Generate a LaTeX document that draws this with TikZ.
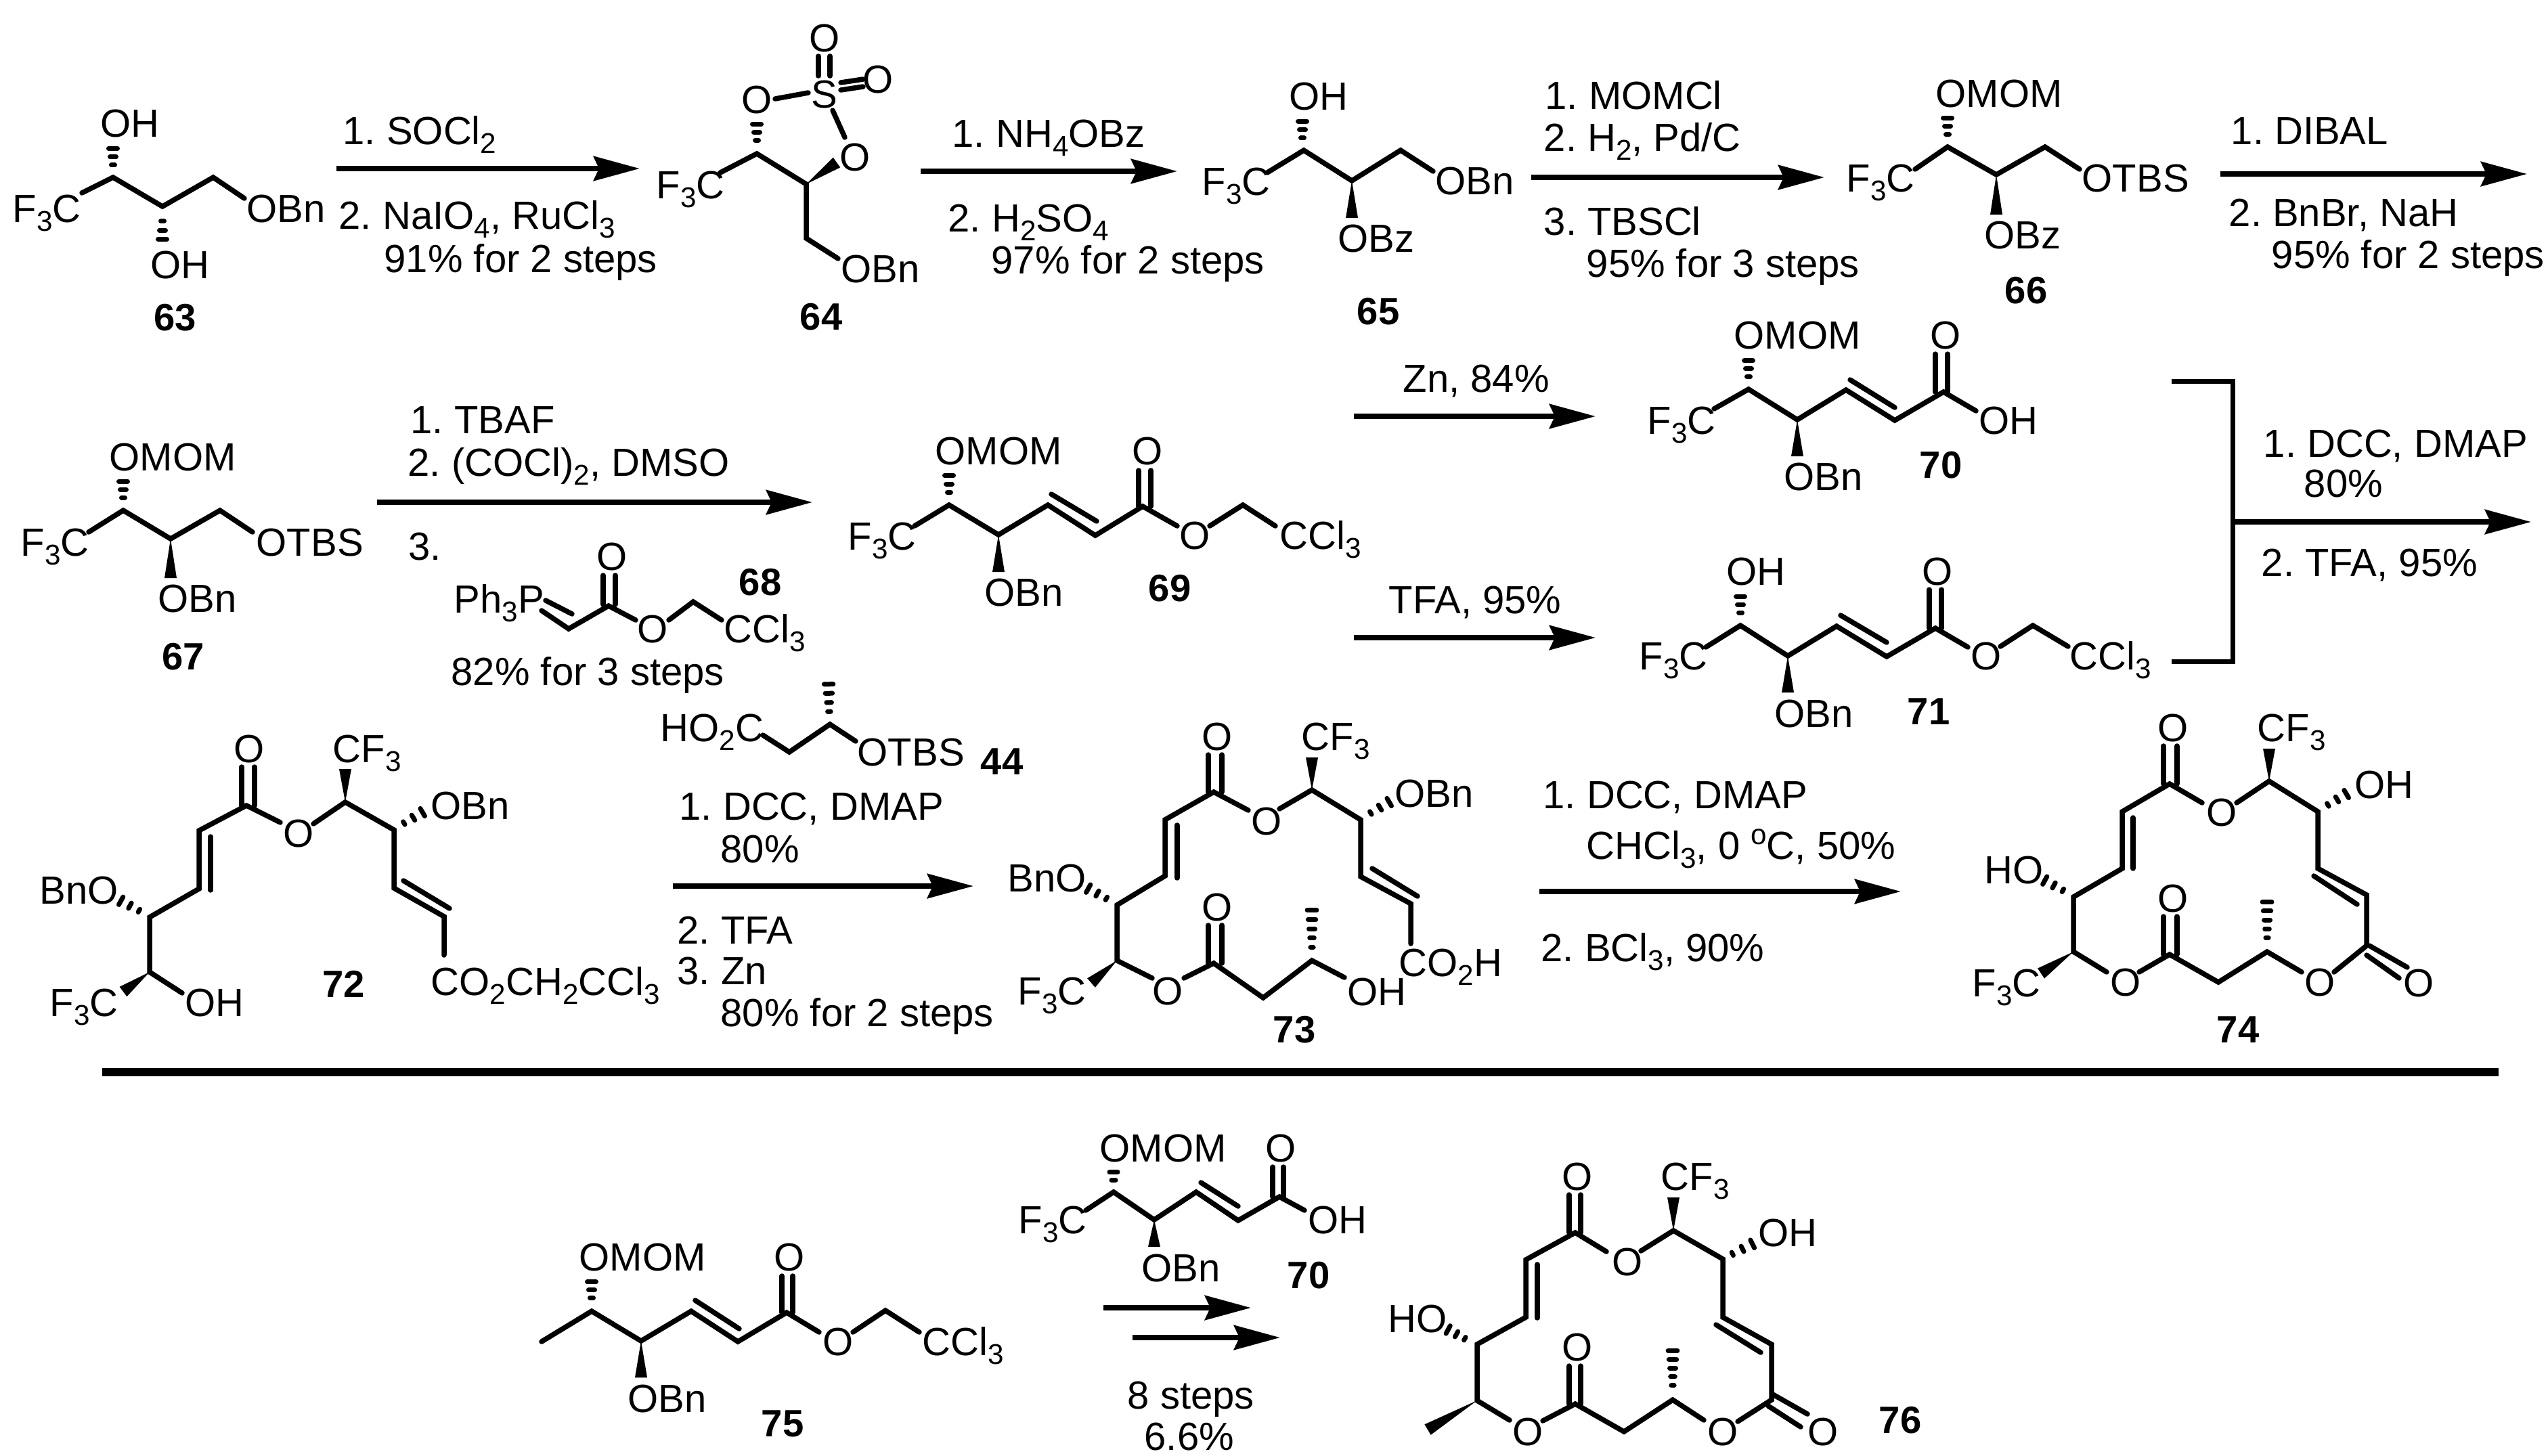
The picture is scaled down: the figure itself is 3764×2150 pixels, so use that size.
\documentclass[tikz,border=0pt]{standalone}
\usepackage{fontspec}
\setmainfont{Liberation Sans}
\usepackage{tikz}
\usetikzlibrary{arrows.meta}
\usetikzlibrary{calc}
\frenchspacing
\tikzstyle{scheme_style}=[
	x=0.01cm,y=-0.01cm,
	atom/.style={anchor=base west,inner sep=0pt,font=\fontsize{16.5}{20}\selectfont},
	reagent/.style={anchor=base west,inner sep=0pt,font=\fontsize{16.5}{20}\selectfont},
	compound/.style={anchor=base west,inner sep=0pt,font=\fontsize{16}{20}\selectfont\bfseries},
	bond/.style={line width=0.075cm,line cap=round},
	hash_bar/.style={line width=0.07cm,line cap=round},
	reaction_arrow/.style={-{Stealth[length=0.68cm,width=0.36cm,inset=0.08cm]},line width=0.08cm},
	bracket/.style={line width=0.07cm},
	sep_line/.style={line width=0.125cm}
]
\newcommand{\chemsub}[1]{\raisebox{-3.7pt}{\fontsize{12}{12}\selectfont #1}}
\newcommand{\chemsup}[1]{\raisebox{6pt}{\fontsize{12}{12}\selectfont #1}}
\newcommand{\hashbond}[3]{\foreach \i in {1,...,#3}{
	\pgfmathsetmacro{\hfrac}{(\i-0.5)/#3}
	\pgfmathsetmacro{\hw}{0.015+0.06*\hfrac}
	\coordinate (hp) at ($#1!\hfrac!#2$);
	\draw[hash_bar] ($(hp)!\hw cm!90:#2$) -- ($(hp)!\hw cm!-90:#2$);}}
\newcommand{\wedgebond}[2]{\fill #1 -- ($#2!0.09cm!90:#1$) -- ($#2!0.09cm!-90:#1$) -- cycle;}
\begin{document}
\begin{tikzpicture}[scheme_style]
			\useasboundingbox (0,0) rectangle (3764,2150);
			
			%63
			\node[atom] (oh63a) at (148,202) {OH};
			\node[atom] (oh63b) at (222,411) {OH};
			\node[atom] (cf63) at (18,328) {F\chemsub{3}C};
			\node[atom] (obn63) at (364,328) {OBn};
			\node[compound] (c63) at (227,488) {63};
			\draw[bond] (121,285) -- (167,262) -- (240,305) -- (315,262) -- (361,293);
			\hashbond{(167,250)}{(167,213)}{3}
			\hashbond{(240,320)}{(240,360)}{3}
			
			%64
			\node[atom] (cf64) at (969,293) {F\chemsub{3}C};
			\node[atom] (oa64) at (1095,167) {O};
			\node[atom] (s64) at (1198,159) {S};
			\node[atom] (ob64) at (1195,76) {O};
			\node[atom] (oc64) at (1274,137) {O};
			\node[atom] (od64) at (1240,252) {O};
			\node[atom] (obn64) at (1242,417) {OBn};
			\node[compound] (c64) at (1181,487) {64};
			\draw[bond] (1064,255) -- (1118,227) -- (1191,272) -- (1191,352) -- (1238,382);
			\draw[bond] (1145,146) -- (1194,137);
			\draw[bond] (1209,83) -- (1209,112) (1226,83) -- (1226,112);
			\draw[bond] (1242,122) -- (1275,117) (1242,133) -- (1275,128);
			\draw[bond] (1230,163) -- (1248,203);
			\hashbond{(1118,213)}{(1118,178)}{3}
			\wedgebond{(1191,272)}{(1236,240)}
			
			%65
			\node[atom] (cf65) at (1775,288) {F\chemsub{3}C};
			\node[atom] (oh65) at (1904,162) {OH};
			\node[atom] (obn65) at (2120,287) {OBn};
			\node[atom] (obz65) at (1976,372) {OBz};
			\node[compound] (c65) at (2004,479) {65};
			\draw[bond] (1872,255) -- (1926,222) -- (1997,267) -- (2069,222) -- (2117,253);
			\hashbond{(1924,210)}{(1924,173)}{3}
			\wedgebond{(1997,267)}{(1997,322)}
			
			%66
			\node[atom] (cf66) at (2727,283) {F\chemsub{3}C};
			\node[atom] (omom66) at (2859,158) {OMOM};
			\node[atom] (otbs66) at (3075,283) {OTBS};
			\node[atom] (obz66) at (2931,367) {OBz};
			\node[compound] (c66) at (2961,448) {66};
			\draw[bond] (2829,250) -- (2877,217) -- (2949,258) -- (3021,217) -- (3072,250);
			\hashbond{(2877,205)}{(2877,168)}{3}
			\wedgebond{(2949,258)}{(2949,317)}
			
			%67
			\node[atom] (cf67) at (30,821) {F\chemsub{3}C};
			\node[atom] (omom67) at (161,695) {OMOM};
			\node[atom] (otbs67) at (378,821) {OTBS};
			\node[atom] (obn67) at (233,904) {OBn};
			\node[compound] (c67) at (239,989) {67};
			\draw[bond] (131,786) -- (182,754) -- (252,796) -- (325,754) -- (373,786);
			\hashbond{(182,741)}{(182,705)}{3}
			\wedgebond{(252,796)}{(252,854)}
			
			%68
			\node[atom] (ph68) at (670,905) {Ph\chemsub{3}P};
			\node[atom] (oa68) at (881,842) {O};
			\node[atom] (ob68) at (941,949) {O};
			\node[atom] (ccl68) at (1069,949) {CCl\chemsub{3}};
			\node[compound] (c68) at (1091,879) {68};
			\draw[bond] (800,902) -- (840,929) -- (899,895) -- (939,916);
			\draw[bond] (806,887) -- (845,907);
			\draw[bond] (891,850) -- (891,893) (909,850) -- (909,893);
			\draw[bond] (988,916) -- (1024,889) -- (1066,916);
			\node[reagent] (r5c) at (603,827) {3.};
			\node[reagent] (r5d) at (666,1012) {82\% for 3 steps};
			
			%69
			\node[atom] (cf69) at (1252,812) {F\chemsub{3}C};
			\node[atom] (omom69) at (1381,686) {OMOM};
			\node[atom] (oa69) at (1672,686) {O};
			\node[atom] (ob69) at (1742,811) {O};
			\node[atom] (ccl69) at (1890,811) {CCl\chemsub{3}};
			\node[atom] (obn69) at (1454,895) {OBn};
			\node[compound] (c69) at (1696,888) {69};
			\draw[bond] (1351,777) -- (1402,746) -- (1475,790) -- (1548,746) -- (1618,791) -- (1688,748) -- (1739,777);
			\draw[bond] (1553,730) -- (1620,770);
			\draw[bond] (1682,695) -- (1682,748) (1700,695) -- (1700,748);
			\draw[bond] (1787,777) -- (1836,746) -- (1884,777);
			\hashbond{(1402,734)}{(1402,696)}{3}
			\wedgebond{(1475,790)}{(1475,845)}
			
			%70
			\node[atom] (cf70) at (2433,641) {F\chemsub{3}C};
			\node[atom] (omom70) at (2561,515) {OMOM};
			\node[atom] (oa70) at (2851,515) {O};
			\node[atom] (oh70) at (2923,641) {OH};
			\node[atom] (obn70) at (2635,724) {OBn};
			\node[compound] (c70) at (2835,706) {70};
			\draw[bond] (2532,604) -- (2583,575) -- (2655,620) -- (2727,576) -- (2799,621) -- (2871,579) -- (2919,607);
			\draw[bond] (2733,561) -- (2799,602);
			\draw[bond] (2859,523) -- (2859,579) (2877,523) -- (2877,579);
			\hashbond{(2583,562)}{(2583,527)}{3}
			\wedgebond{(2655,620)}{(2655,674)}
			
			%71
			\node[atom] (cf71) at (2421,989) {F\chemsub{3}C};
			\node[atom] (oh71) at (2550,864) {OH};
			\node[atom] (oa71) at (2839,864) {O};
			\node[atom] (ob71) at (2911,989) {O};
			\node[atom] (ccl71) at (3057,989) {CCl\chemsub{3}};
			\node[atom] (obn71) at (2621,1074) {OBn};
			\node[compound] (c71) at (2817,1070) {71};
			\draw[bond] (2520,956) -- (2571,924) -- (2641,969) -- (2713,925) -- (2787,970) -- (2859,928) -- (2907,956);
			\draw[bond] (2719,909) -- (2787,949);
			\draw[bond] (2850,871) -- (2850,928) (2868,871) -- (2868,928);
			\draw[bond] (2955,955) -- (3003,924) -- (3055,955);
			\hashbond{(2571,911)}{(2571,875)}{3}
			\wedgebond{(2641,969)}{(2641,1023)}
			
			%72
			\node[atom] (oa72) at (345,1126) {O};
			\node[atom] (cf72) at (491,1126) {CF\chemsub{3}};
			\node[atom] (ob72) at (418,1251) {O};
			\node[atom] (obn72) at (636,1210) {OBn};
			\node[atom] (bno72) at (58,1335) {BnO};
			\node[atom] (fc72) at (73,1501) {F\chemsub{3}C};
			\node[atom] (oh72) at (273,1501) {OH};
			\node[atom] (co72) at (636,1470) {CO\chemsub{2}CH\chemsub{2}CCl\chemsub{3}};
			\node[compound] (c72) at (476,1473) {72};
			\draw[bond] (414,1215) -- (364,1190) -- (294,1227) -- (294,1313) -- (221,1355) -- (221,1436) -- (269,1467);
			\draw[bond] (463,1217) -- (510,1185) -- (582,1226) -- (582,1312) -- (656,1354) -- (656,1411);
			\draw[bond] (357,1133) -- (357,1190) (376,1133) -- (376,1190);
			\draw[bond] (311,1236) -- (311,1315);
			\draw[bond] (596,1301) -- (664,1342);
			\wedgebond{(510,1185)}{(510,1136)}
			\wedgebond{(221,1436)}{(182,1465)}
			\hashbond{(590,1220)}{(631,1196)}{3}
			\hashbond{(212,1349)}{(172,1327)}{3}
			
			%44
			\node[atom] (ho44) at (975,1095) {HO\chemsub{2}C};
			\node[atom] (otbs44) at (1266,1131) {OTBS};
			\node[compound] (c44) at (1448,1144) {44};
			\draw[bond] (1127,1086) -- (1166,1111) -- (1226,1070) -- (1264,1095);
			\hashbond{(1225,1058)}{(1224,1004)}{4}
			
			%73
			\node[atom] (oa73) at (1775,1108) {O};
			\node[atom] (cf73) at (1922,1108) {CF\chemsub{3}};
			\node[atom] (ob73) at (1848,1233) {O};
			\node[atom] (obn73) at (2060,1192) {OBn};
			\node[atom] (bno73) at (1488,1317) {BnO};
			\node[atom] (oc73) at (1775,1360) {O};
			\node[atom] (fc73) at (1503,1484) {F\chemsub{3}C};
			\node[atom] (od73) at (1702,1484) {O};
			\node[atom] (oh73) at (1990,1485) {OH};
			\node[atom] (co73) at (2066,1442) {CO\chemsub{2}H};
			\node[compound] (c73) at (1880,1540) {73};
			\draw[bond] (1844,1197) -- (1793,1170) -- (1721,1211) -- (1721,1294) -- (1650,1337) -- (1650,1419) -- (1702,1445);
			\draw[bond] (1749,1445) -- (1793,1423) -- (1866,1474) -- (1938,1419) -- (1986,1444);
			\draw[bond] (1890,1195) -- (1938,1167) -- (2010,1211) -- (2010,1295) -- (2084,1335) -- (2084,1394);
			\draw[bond] (1785,1115) -- (1785,1170) (1805,1115) -- (1805,1170);
			\draw[bond] (1785,1367) -- (1785,1423) (1805,1367) -- (1805,1423);
			\draw[bond] (1739,1219) -- (1739,1297);
			\draw[bond] (2027,1283) -- (2094,1324);
			\wedgebond{(1938,1167)}{(1938,1119)}
			\wedgebond{(1650,1419)}{(1612,1452)}
			\hashbond{(2018,1205)}{(2059,1181)}{3}
			\hashbond{(1641,1331)}{(1601,1309)}{3}
			\hashbond{(1938,1406)}{(1938,1338)}{5}
			
			%74
			\node[atom] (oa74) at (3187,1095) {O};
			\node[atom] (cf74) at (3334,1095) {CF\chemsub{3}};
			\node[atom] (ob74) at (3259,1220) {O};
			\node[atom] (oh74a) at (3478,1179) {OH};
			\node[atom] (ho74) at (2931,1305) {HO};
			\node[atom] (oc74) at (3187,1347) {O};
			\node[atom] (fc74) at (2913,1472) {F\chemsub{3}C};
			\node[atom] (od74) at (3117,1471) {O};
			\node[atom] (oe74) at (3404,1471) {O};
			\node[atom] (of74) at (3550,1472) {O};
			\node[compound] (c74) at (3274,1540) {74};
			\draw[bond] (3253,1186) -- (3205,1158) -- (3135,1199) -- (3135,1283) -- (3063,1325) -- (3063,1406) -- (3112,1436);
			\draw[bond] (3160,1436) -- (3205,1410) -- (3277,1451) -- (3349,1406) -- (3400,1436);
			\draw[bond] (3304,1186) -- (3352,1154) -- (3424,1199) -- (3424,1283) -- (3496,1322) -- (3496,1397) -- (3448,1436);
			\draw[bond] (3196,1102) -- (3196,1158) (3216,1102) -- (3216,1158);
			\draw[bond] (3196,1354) -- (3196,1410) (3216,1354) -- (3216,1410);
			\draw[bond] (3151,1208) -- (3151,1283);
			\draw[bond] (3418,1294) -- (3482,1336);
			\draw[bond] (3500,1397) -- (3556,1429) (3496,1411) -- (3544,1445);
			\wedgebond{(3352,1154)}{(3352,1106)}
			\wedgebond{(3063,1406)}{(3015,1438)}
			\hashbond{(3432,1193)}{(3473,1169)}{3}
			\hashbond{(3054,1319)}{(3014,1297)}{3}
			\hashbond{(3349,1392)}{(3349,1326)}{5}
			
			%separator
			\coordinate (sepl) at (151,1584);
			\coordinate (sepr) at (3691,1584);
			\draw[sep_line] (sepl) -- (sepr);
			
			%75
			\node[atom] (omom75) at (855,1877) {OMOM};
			\node[atom] (oa75) at (1143,1877) {O};
			\node[atom] (ob75) at (1215,2002) {O};
			\node[atom] (ccl75) at (1362,2002) {CCl\chemsub{3}};
			\node[atom] (obn75) at (927,2086) {OBn};
			\node[compound] (c75) at (1124,2122) {75};
			\draw[bond] (800,1982) -- (874,1937) -- (947,1981) -- (1021,1937) -- (1090,1982) -- (1162,1939) -- (1210,1968);
			\draw[bond] (1027,1921) -- (1092,1963);
			\draw[bond] (1155,1885) -- (1155,1939) (1171,1885) -- (1171,1939);
			\draw[bond] (1260,1968) -- (1308,1936) -- (1358,1968);
			\hashbond{(874,1923)}{(874,1888)}{3}
			\wedgebond{(947,1981)}{(947,2035)}
			
			%70 again
			\node[atom] (cf70b) at (1504,1822) {F\chemsub{3}C};
			\node[atom] (omom70b) at (1624,1716) {OMOM};
			\node[atom] (oa70b) at (1869,1716) {O};
			\node[atom] (oh70b) at (1932,1822) {OH};
			\node[atom] (obn70b) at (1686,1893) {OBn};
			\node[compound] (c70b) at (1901,1903) {70};
			\draw[bond] (1604,1788) -- (1645,1761) -- (1705,1802) -- (1767,1761) -- (1829,1803) -- (1890,1768) -- (1927,1788);
			\draw[bond] (1774,1747) -- (1829,1782);
			\draw[bond] (1880,1724) -- (1880,1768) (1896,1724) -- (1896,1768);
			\hashbond{(1645,1749)}{(1645,1726)}{2}
			\wedgebond{(1705,1802)}{(1705,1842)}
			
			%76
			\node[atom] (oa76) at (2307,1758) {O};
			\node[atom] (cf76) at (2453,1758) {CF\chemsub{3}};
			\node[atom] (ob76) at (2381,1884) {O};
			\node[atom] (oh76) at (2597,1841) {OH};
			\node[atom] (ho76) at (2050,1968) {HO};
			\node[atom] (oc76) at (2307,2010) {O};
			\node[atom] (od76) at (2234,2135) {O};
			\node[atom] (oe76) at (2522,2135) {O};
			\node[atom] (of76) at (2670,2135) {O};
			\node[compound] (c76) at (2775,2117) {76};
			\draw[bond] (2373,1849) -- (2327,1821) -- (2254,1861) -- (2254,1946) -- (2182,1986) -- (2182,2069) -- (2230,2098);
			\draw[bond] (2279,2099) -- (2327,2074) -- (2399,2115) -- (2471,2068) -- (2517,2098);
			\draw[bond] (2424,1848) -- (2472,1818) -- (2545,1860) -- (2545,1946) -- (2617,1986) -- (2617,2068) -- (2567,2100);
			\draw[bond] (2318,1765) -- (2318,1821) (2335,1765) -- (2335,1821);
			\draw[bond] (2318,2018) -- (2318,2074) (2335,2018) -- (2335,2074);
			\draw[bond] (2271,1868) -- (2271,1947);
			\draw[bond] (2535,1957) -- (2601,1998);
			\draw[bond] (2619,2060) -- (2670,2089) (2612,2077) -- (2660,2108);
			\wedgebond{(2472,1818)}{(2472,1769)}
			\wedgebond{(2182,2069)}{(2109,2112)}
			\hashbond{(2552,1856)}{(2596,1834)}{3}
			\hashbond{(2170,1981)}{(2133,1961)}{3}
			\hashbond{(2471,2053)}{(2471,1989)}{5}
			
			%reagents
			\node[reagent] (r1a) at (506,213) {1. SOCl\chemsub{2}};
			\node[reagent] (r1b) at (500,338) {2. NaIO\chemsub{4}, RuCl\chemsub{3}};
			\node[reagent] (r1c) at (567,402) {91\% for 2 steps};
			\node[reagent] (r2a) at (1406,217) {1. NH\chemsub{4}OBz};
			\node[reagent] (r2b) at (1400,342) {2. H\chemsub{2}SO\chemsub{4}};
			\node[reagent] (r2c) at (1464,404) {97\% for 2 steps};
			\node[reagent] (r3a) at (2282,161) {1. MOMCl};
			\node[reagent] (r3b) at (2280,223) {2. H\chemsub{2}, Pd/C};
			\node[reagent] (r3c) at (2280,347) {3. TBSCl};
			\node[reagent] (r3d) at (2343,409) {95\% for 3 steps};
			\node[reagent] (r4a) at (3295,213) {1. DIBAL};
			\node[reagent] (r4b) at (3292,334) {2. BnBr, NaH};
			\node[reagent] (r4c) at (3355,396) {95\% for 2 steps};
			\node[reagent] (r5a) at (606,640) {1. TBAF};
			\node[reagent] (r5b) at (602,703) {2. (COCl)\chemsub{2}, DMSO};
			\node[reagent] (r6a) at (2072,579) {Zn, 84\%};
			\node[reagent] (r7a) at (2051,906) {TFA, 95\%};
			\node[reagent] (r8a) at (3343,675) {1. DCC, DMAP};
			\node[reagent] (r8b) at (3403,734) {80\%};
			\node[reagent] (r8c) at (3340,851) {2. TFA, 95\%};
			\node[reagent] (r9a) at (1003,1211) {1. DCC, DMAP};
			\node[reagent] (r9b) at (1064,1274) {80\%};
			\node[reagent] (r9c) at (1000,1394) {2. TFA};
			\node[reagent] (r9d) at (1000,1454) {3. Zn};
			\node[reagent] (r9e) at (1064,1516) {80\% for 2 steps};
			\node[reagent] (r10a) at (2279,1194) {1. DCC, DMAP};
			\node[reagent] (r10b) at (2343,1269) {CHCl\chemsub{3}, 0 \chemsup{o}C, 50\%};
			\node[reagent] (r10c) at (2276,1420) {2. BCl\chemsub{3}, 90\%};
			\node[reagent] (r11a) at (1665,2081) {8 steps};
			\node[reagent] (r11b) at (1690,2142) {6.6\%};
			
			%bracket
			\coordinate (b1) at (3208,563);
			\coordinate (b2) at (3298,563);
			\coordinate (b3) at (3298,977);
			\coordinate (b4) at (3208,977);
			\coordinate (b5) at (3298,771);
			\draw[bracket] (b1) -- (b2) -- (b3) -- (b4);
			
			%arrows
			\coordinate (a1s) at (497,249);   \coordinate (a1e) at (945,249);
			\coordinate (a2s) at (1360,253);  \coordinate (a2e) at (1739,253);
			\coordinate (a3s) at (2262,262);  \coordinate (a3e) at (2695,262);
			\coordinate (a4s) at (3280,257);  \coordinate (a4e) at (3733,257);
			\coordinate (a5s) at (557,742);   \coordinate (a5e) at (1200,742);
			\coordinate (a6s) at (2000,615);  \coordinate (a6e) at (2357,615);
			\coordinate (a7s) at (2000,942);  \coordinate (a7e) at (2357,942);
			\coordinate (a8e) at (3739,771);
			\coordinate (a9s) at (994,1309);  \coordinate (a9e) at (1438,1309);
			\coordinate (a10s) at (2274,1317); \coordinate (a10e) at (2808,1317);
			\coordinate (a11s) at (1630,1932); \coordinate (a11e) at (1848,1932);
			\coordinate (a12s) at (1673,1976); \coordinate (a12e) at (1891,1976);
			
			\path[reaction_arrow] (a1s) edge (a1e)
			(a2s) edge (a2e)
			(a3s) edge (a3e)
			(a4s) edge (a4e)
			(a5s) edge (a5e)
			(a6s) edge (a6e)
			(a7s) edge (a7e)
			(b5) edge (a8e)
			(a9s) edge (a9e)
			(a10s) edge (a10e)
			(a11s) edge (a11e)
			(a12s) edge (a12e);
			
			\end{tikzpicture}
\end{document}
